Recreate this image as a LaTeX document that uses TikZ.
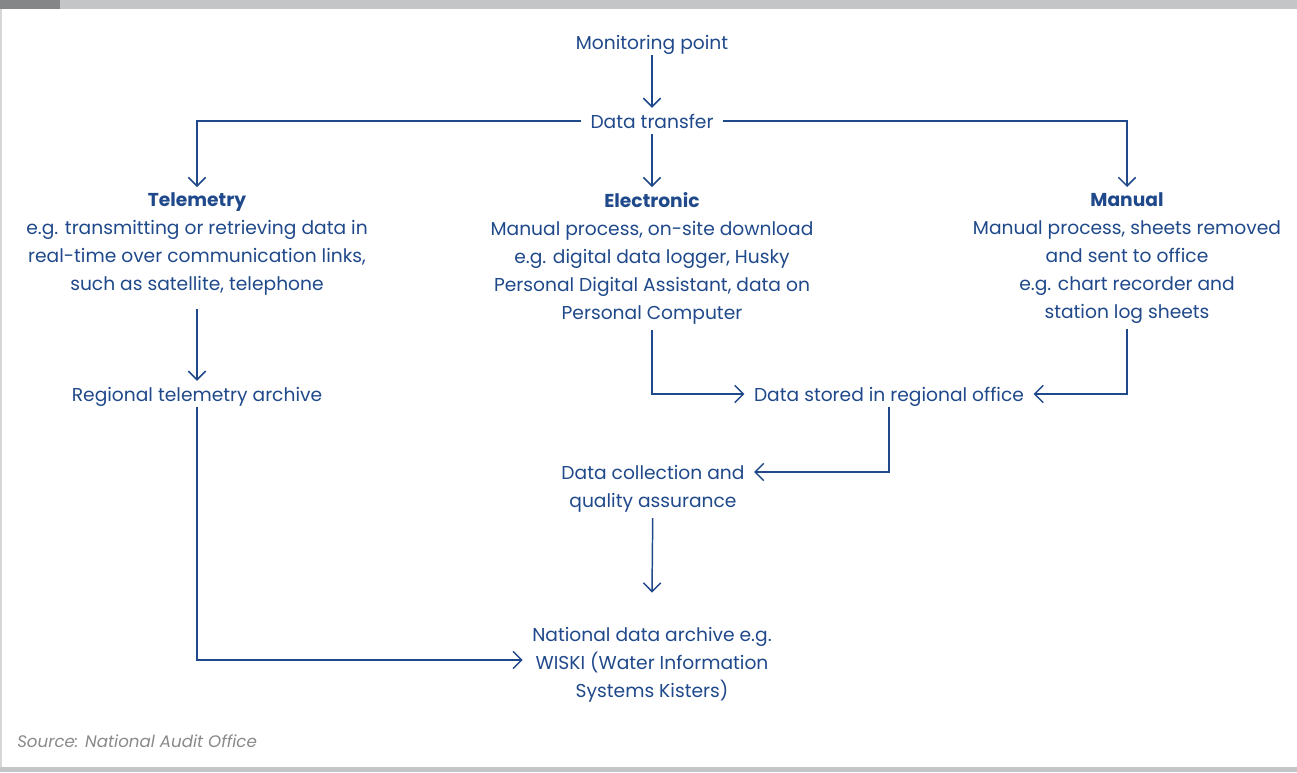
\documentclass[tikz,border=0pt]{standalone}
\usepackage{fontspec}
\setmainfont{Poppins}
\usetikzlibrary{arrows.meta}
\definecolor{naoblue}{RGB}{31,73,138}
\definecolor{barlight}{RGB}{196,197,199}
\definecolor{bardark}{RGB}{133,134,136}
\definecolor{edgegray}{RGB}{214,214,214}
\definecolor{srcgray}{RGB}{138,138,138}
\begin{document}
\begin{tikzpicture}[x=0.75pt,y=-0.75pt,
  lbl/.style={text=naoblue, font=\fontsize{14}{21}\selectfont, inner xsep=7pt, inner ysep=4pt, align=center},
  one/.style={lbl, text height=11pt, text depth=0.4pt},
  conn/.style={draw=naoblue, line width=1.1pt, -{Straight Barb[length=6.5pt,width=13pt]}}]
\useasboundingbox (0,0) rectangle (1297,772);
\fill[white] (0,0) rectangle (1297,772);
\fill[barlight] (0,0) rectangle (1297,9);
\fill[bardark] (0,0) rectangle (60,9);
\fill[edgegray] (0,9) rectangle (2,767);
\fill[barlight] (0,767) rectangle (1297,772);

\node[one] (mp) at (652,42) {Monitoring point};
\node[one] (dt) at (652,121) {Data transfer};
\node[lbl, anchor=north] (tel) at (197,187) {\textbf{Telemetry}\\e.g. transmitting or retrieving data in\\real-time over communication links,\\such as satellite, telephone};
\node[lbl, anchor=north] (ele) at (652,187) {\textbf{Electronic}\\Manual process, on-site download\\e.g. digital data logger, Husky\\Personal Digital Assistant, data on\\Personal Computer};
\node[lbl, anchor=north] (man) at (1127,187) {\textbf{Manual}\\Manual process, sheets removed\\and sent to office\\e.g. chart recorder and\\station log sheets};
\node[one] (rta) at (197,394) {Regional telemetry archive};
\node[one] (ds) at (889,394) {Data stored in regional office};
\node[lbl] (dcq) at (653,489) {Data collection and\\quality assurance};
\node[lbl] (nat) at (652,665) {National data archive e.g.\\WISKI (Water Information\\Systems Kisters)};
\node[anchor=west, text=srcgray, font=\fontsize{12.5}{15}\selectfont\itshape, inner sep=0pt] (src) at (17,741) {Source: National Audit Office};

\draw[conn] (mp) -- (dt);
\draw[conn] (dt) -- (ele);
\draw[conn] (dt.west) -| (tel.north);
\draw[conn] (dt.east) -| (man.north);
\draw[conn] ([yshift=-6pt]tel.south) -- (rta);
\draw[conn] (rta.south) |- ([yshift=3.75pt]nat.west);
\draw[conn] (ele.south) |- (ds.west);
\draw[conn] (man.south) |- (ds.east);
\draw[conn] (ds.south) |- ([yshift=12.75pt]dcq.east);
\draw[conn] (dcq) -- ([yshift=22pt]nat.north);
\end{tikzpicture}
\end{document}
